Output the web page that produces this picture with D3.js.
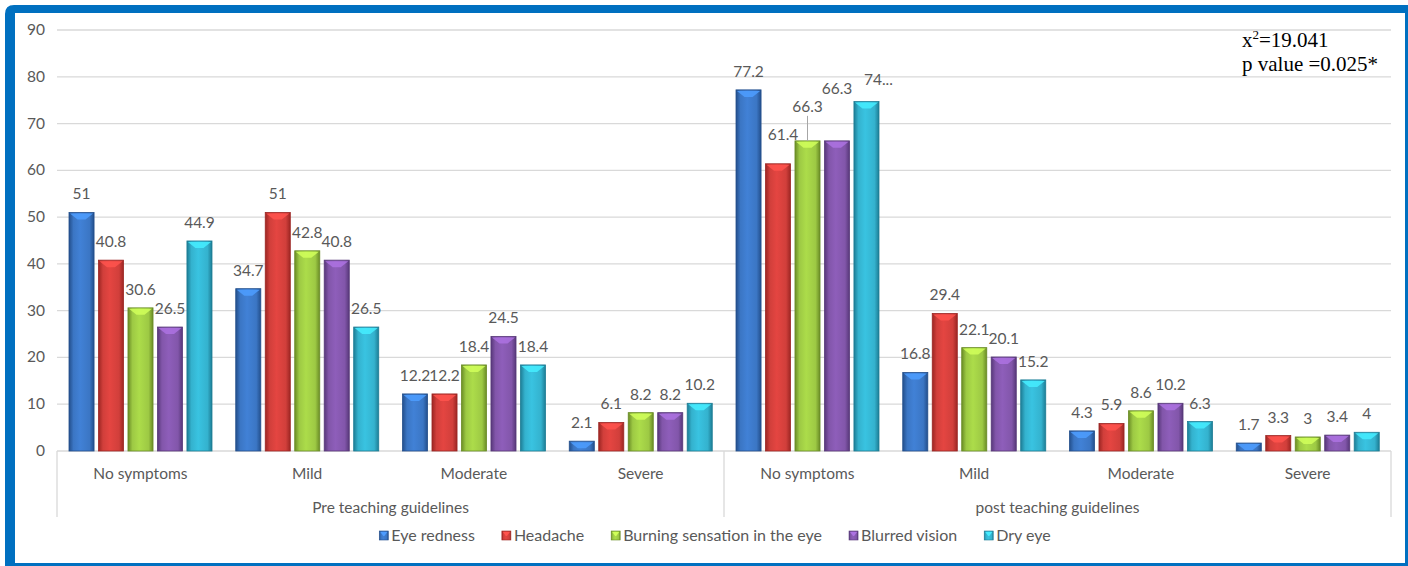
<!DOCTYPE html>
<html>
<head>
<meta charset="utf-8">
<script src="https://cdnjs.cloudflare.com/ajax/libs/d3/7.8.5/d3.min.js"></script>
<style>
  body { margin: 0; background: #fff; }
  text { font-family: Lato, "Open Sans", sans-serif; fill: #595959; }
</style>
</head>
<body>
<svg id="chart" width="1408" height="566"></svg>
<script>
// data
var phases = ["Pre teaching guidelines", "post teaching guidelines"];
var levels = ["No symptoms", "Mild", "Moderate", "Severe"];
var series = ["Eye redness", "Headache", "Burning sensation in the eye", "Blurred vision", "Dry eye"];

// one row per level, one value per series
var preValues = [
    [51, 40.8, 30.6, 26.5, 44.9],
    [34.7, 51, 42.8, 40.8, 26.5],
    [12.2, 12.2, 18.4, 24.5, 18.4],
    [2.1, 6.1, 8.2, 8.2, 10.2]
];
var postValues = [
    [77.2, 61.4, 66.3, 66.3, 74.7],
    [16.8, 29.4, 22.1, 20.1, 15.2],
    [4.3, 5.9, 8.6, 10.2, 6.3],
    [1.7, 3.3, 3, 3.4, 4]
];
var yTicks = [0, 10, 20, 30, 40, 50, 60, 70, 80, 90];

var colors = ["#3b76c4", "#d13f3b", "#9dc944", "#8256aa", "#34b2ce"];
var darks  = ["#234f8c", "#9c2623", "#6a8c26", "#573879", "#1d7d95"];

// labels Excel nudged around
var labelNudge = {
    "4|1": {dx: 5, dy: -11},
    "4|2": {dx: 0, dy: -16, leader: true},
    "4|3": {dx: 0, dy: -34},
    "4|4": {dx: 12, dy: -4, text: "74..."}
};

var svg = d3.select("#chart");
var W = 1408, H = 566;
var fs = "15.5px";

var rows = [];
[preValues, postValues].forEach(function(block, p) {
    block.forEach(function(vals, l) {
        rows.push({key: p + "-" + l, phase: p, level: levels[l], values: vals});
    });
});

var x0 = d3.scaleBand().domain(rows.map(function(d) { return d.key; })).range([57, 1391]).padding(0);
var x1 = d3.scaleBand().domain(series).range([12, 155]).paddingInner(0.15).paddingOuter(0);
var y = d3.scaleLinear().domain([0, 90]).range([451, 30]);

// gradients
var defs = svg.append("defs");
colors.forEach(function(c, i) {
    var g = defs.append("linearGradient").attr("id", "g" + i)
        .attr("x1", "0%").attr("x2", "100%").attr("y1", "0%").attr("y2", "0%");
    g.append("stop").attr("offset", "0%").attr("stop-color", darks[i]);
    g.append("stop").attr("offset", "18%").attr("stop-color", c);
    g.append("stop").attr("offset", "45%").attr("stop-color", d3.color(c).brighter(0.25));
    g.append("stop").attr("offset", "82%").attr("stop-color", c);
    g.append("stop").attr("offset", "100%").attr("stop-color", darks[i]);
});

// grid
svg.append("g").selectAll("line")
    .data(yTicks.filter(function(t) { return t > 0; }))
    .enter().append("line")
    .attr("x1", 57).attr("x2", 1391)
    .attr("y1", function(d) { return y(d); }).attr("y2", function(d) { return y(d); })
    .attr("stroke", "#d9d9d9").attr("stroke-width", 1.3);

svg.append("g").selectAll("text")
    .data(yTicks)
    .enter().append("text")
    .attr("x", 45).attr("y", function(d) { return y(d) + 5; })
    .attr("text-anchor", "end")
    .style("font-size", fs)
    .text(function(d) { return d; });

// bottom axis + separators
svg.append("line").attr("x1", 57).attr("x2", 1391).attr("y1", 451).attr("y2", 451)
    .attr("stroke", "#d9d9d9").attr("stroke-width", 1.3);
svg.append("g").selectAll("line")
    .data([57, 724, 1391])
    .enter().append("line")
    .attr("x1", function(d) { return d; }).attr("x2", function(d) { return d; })
    .attr("y1", 451).attr("y2", 517)
    .attr("stroke", "#d9d9d9").attr("stroke-width", 1.3);

svg.append("g").selectAll("text")
    .data(rows)
    .enter().append("text")
    .attr("x", function(d) { return x0(d.key) + x0.bandwidth() / 2; })
    .attr("y", 479)
    .attr("text-anchor", "middle")
    .style("font-size", fs)
    .text(function(d) { return d.level; });

svg.append("g").selectAll("text")
    .data(phases)
    .enter().append("text")
    .attr("x", function(d, i) { return i == 0 ? (57 + 724) / 2 : (724 + 1391) / 2; })
    .attr("y", 513)
    .attr("text-anchor", "middle")
    .style("font-size", fs)
    .text(function(d) { return d; });

// bars
var groups = svg.append("g").selectAll("g")
    .data(rows)
    .enter().append("g")
    .attr("transform", function(d) { return "translate(" + x0(d.key) + ",0)"; });

var bars = groups.selectAll("g")
    .data(function(d, gi) {
        return d.values.map(function(v, i) { return {v: v, i: i, gi: gi}; });
    })
    .enter().append("g");

bars.append("rect")
    .attr("x", function(d) { return x1(series[d.i]); })
    .attr("y", function(d) { return y(d.v); })
    .attr("width", x1.bandwidth())
    .attr("height", function(d) { return y(0) - y(d.v); })
    .attr("fill", function(d) { return "url(#g" + d.i + ")"; })
    .attr("stroke", function(d) { return darks[d.i]; })
    .attr("stroke-width", 0.8);

// bevel on top
bars.append("path")
    .attr("d", function(d) {
        var bx = x1(series[d.i]), w = x1.bandwidth(), t = y(d.v);
        var h = Math.min(7, y(0) - t);
        return "M" + (bx + 1) + "," + (t + 1) + "L" + (bx + w - 1) + "," + (t + 1) +
            "L" + (bx + w / 2 + 4) + "," + (t + h) + "L" + (bx + w / 2 - 4) + "," + (t + h) + "Z";
    })
    .attr("fill", function(d) { return d3.color(colors[d.i]).brighter(0.8); })
    .attr("opacity", 0.85);

// value labels
bars.each(function(d) {
    var n = labelNudge[d.gi + "|" + d.i] || {dx: 0, dy: 0};
    var cx = x1(series[d.i]) + x1.bandwidth() / 2;
    var ty = y(d.v) - 13 + n.dy;
    if (n.leader) {
        d3.select(this).append("line")
            .attr("x1", cx).attr("x2", cx)
            .attr("y1", y(d.v)).attr("y2", ty + 4)
            .attr("stroke", "#a6a6a6").attr("stroke-width", 1);
    }
    d3.select(this).append("text")
        .attr("x", cx + n.dx)
        .attr("y", ty)
        .attr("text-anchor", "middle")
        .style("font-size", fs)
        .text(n.text || d.v);
});

// stats note
var note = svg.append("g");
var t1 = note.append("text").attr("x", 1242).attr("y", 47)
    .style("font-family", "'Liberation Serif', serif").style("font-size", "21px").style("fill", "#000");
t1.append("tspan").text("x");
t1.append("tspan").attr("dy", -8).style("font-size", "13px").text("2");
t1.append("tspan").attr("dy", 8).text("=19.041");
note.append("text").attr("x", 1242).attr("y", 71)
    .style("font-family", "'Liberation Serif', serif").style("font-size", "21px").style("fill", "#000")
    .text("p value =0.025*");

// legend
var legend = svg.append("g");
var lx = 0, gap = 27;
series.forEach(function(s, i) {
    var item = legend.append("g").attr("transform", "translate(" + lx + ",0)");
    item.append("rect").attr("x", 0).attr("y", -5).attr("width", 9).attr("height", 9)
        .attr("fill", "url(#g" + i + ")").attr("stroke", darks[i]).attr("stroke-width", 0.6);
    item.append("path").attr("d", "M1,-4L8,-4L5,0L4,0Z")
        .attr("fill", d3.color(colors[i]).brighter(0.8));
    var tx = item.append("text").attr("x", 12).attr("y", 5).style("font-size", "16px").text(s);
    lx += 12 + tx.node().getComputedTextLength() + gap;
});
lx -= gap;
legend.attr("transform", "translate(" + (715 - lx / 2) + ",536)");

// blue frame
svg.append("path")
    .attr("d", "M5,14 Q5,5 14,5 L" + W + ",5 L" + W + "," + H + " L5," + H + " Z" +
        " M15,13 L1405,13 L1405,563 L15,563 Z")
    .attr("fill", "#0070c0")
    .attr("fill-rule", "evenodd");
</script>
</body>
</html>
